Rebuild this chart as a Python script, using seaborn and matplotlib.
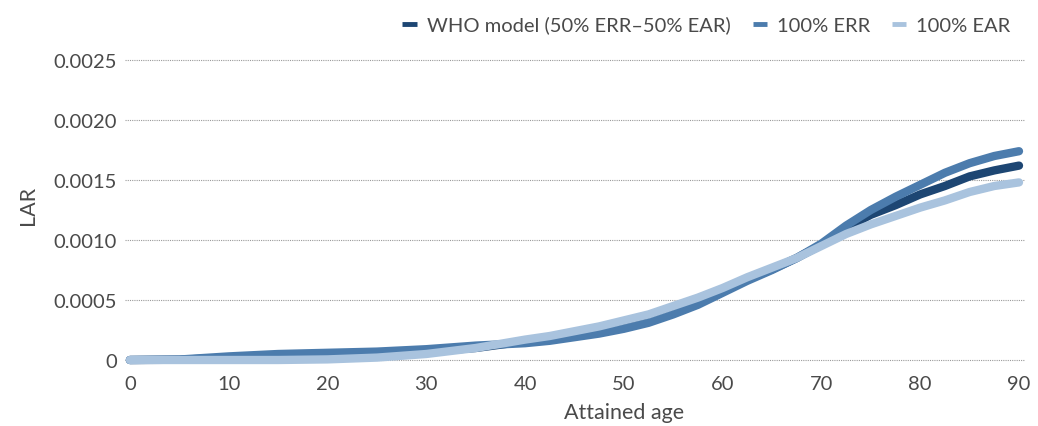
import matplotlib
matplotlib.use("Agg")
import matplotlib.pyplot as plt
import seaborn as sns
import pandas as pd

# Lifetime attributable risk by attained age for three risk-transfer models
ages = [0, 5, 10, 15, 20, 25, 30, 35, 40, 42.5, 45, 47.5, 50, 52.5, 55, 57.5,
        60, 62.5, 65, 67.5, 70, 72.5, 75, 77.5, 80, 82.5, 85, 87.5, 90]
who_model = [0, 0.000002, 0.00002, 0.00003, 0.00004, 0.00005, 0.00007, 0.00010,
             0.000155, 0.00018, 0.000215, 0.00025, 0.000295, 0.000345, 0.000415,
             0.00049, 0.00058, 0.000675, 0.000755, 0.00085, 0.00096, 0.00110,
             0.00121, 0.00129, 0.00138, 0.00145, 0.00153, 0.00158, 0.00162]
err_100 = [0, 0.000004, 0.00003, 0.00005, 0.00006, 0.00007, 0.00009, 0.00012,
           0.00014, 0.00016, 0.00019, 0.00022, 0.00026, 0.00031, 0.00038,
           0.00046, 0.00056, 0.00066, 0.00075, 0.00085, 0.00097, 0.00112,
           0.00125, 0.00136, 0.00146, 0.00156, 0.00164, 0.00170, 0.00174]
ear_100 = [0, 0, 0, 0, 0.000005, 0.00002, 0.00005, 0.00010, 0.00017, 0.00020,
           0.00024, 0.00028, 0.00033, 0.00038, 0.00045, 0.00052, 0.00060,
           0.00069, 0.00077, 0.00085, 0.00095, 0.00105, 0.00113, 0.00120,
           0.00127, 0.00133, 0.00140, 0.00145, 0.00148]

series_names = ["WHO model (50% ERR\u201350% EAR)", "100% ERR", "100% EAR"]
series_colors = ["#1d4673", "#4c7cad", "#a9c3de"]
y_ticks = [0, 0.0005, 0.0010, 0.0015, 0.0020, 0.0025]
y_tick_labels = ["0", "0.0005", "0.0010", "0.0015", "0.0020", "0.0025"]
x_ticks = [0, 10, 20, 30, 40, 50, 60, 70, 80, 90]

df = pd.concat([
    pd.DataFrame({"age": ages, "LAR": vals, "model": name})
    for name, vals in zip(series_names, [who_model, err_100, ear_100])
])

sns.set_theme(style="white")
plt.rcParams["font.family"] = ["Lato", "DejaVu Sans"]
text_color = "#4a4a4a"

fig = plt.figure(figsize=(10.38, 4.27), dpi=100)
ax = fig.add_axes([0.1204, 0.1335, 0.867, 0.7728])

for y in y_ticks:
    ax.axhline(y, color="#9a9a9a", linewidth=0.8, linestyle=(0, (1, 1)), zorder=0)

sns.lineplot(data=df, x="age", y="LAR", hue="model", hue_order=series_names,
             palette=series_colors, linewidth=6, ax=ax, legend=False,
             solid_capstyle="round", solid_joinstyle="round", sort=False)

ax.set_xlim(-0.5, 90.6)
ax.set_ylim(-0.000075, 0.002675)
ax.set_xticks(x_ticks)
ax.set_xticklabels([str(t) for t in x_ticks])
ax.set_yticks(y_ticks)
ax.set_yticklabels(y_tick_labels)
ax.tick_params(axis="both", length=0, labelsize=14.5, labelcolor=text_color)
ax.tick_params(axis="y", pad=6)
ax.tick_params(axis="x", pad=4)
for s in ax.spines.values():
    s.set_visible(False)
ax.grid(False)

ax.set_xlabel("Attained age", fontsize=15.5, color=text_color)
ax.xaxis.set_label_coords(0.555, -0.1)
ax.set_ylabel("LAR", fontsize=15.5, color=text_color)
ax.yaxis.set_label_coords(-0.097, 0.5)

handles = [plt.Line2D([0], [0], color=c, linewidth=3.5, solid_capstyle="butt")
           for c in series_colors]
leg = fig.legend(handles, series_names, loc="center right", ncol=3,
                 bbox_to_anchor=(0.991, 0.94), frameon=False, fontsize=14.5,
                 handlelength=0.7, handletextpad=0.5, columnspacing=1.1)
for t in leg.get_texts():
    t.set_color(text_color)

fig.savefig("out.png", dpi=100, facecolor="white")
